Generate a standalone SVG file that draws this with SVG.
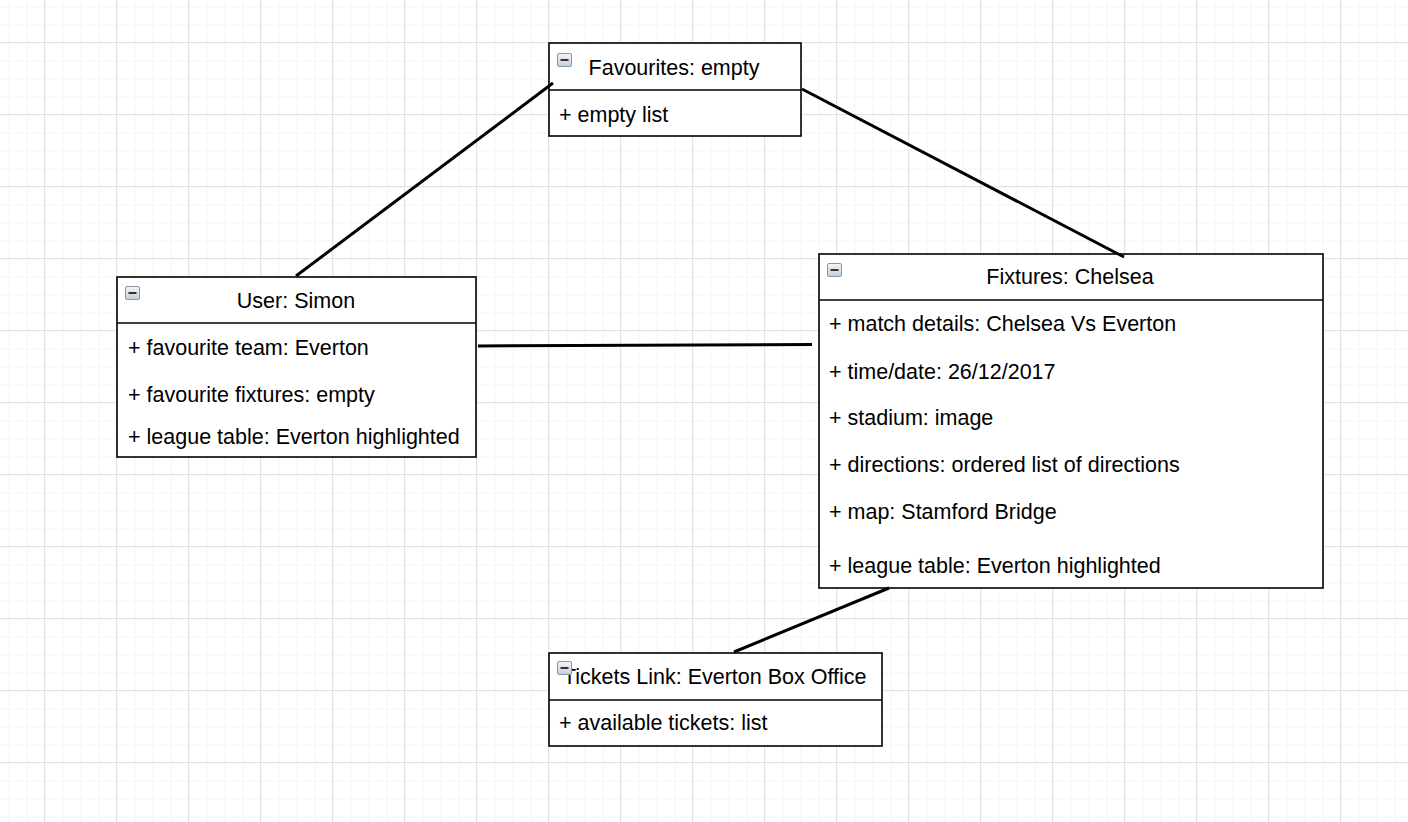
<svg xmlns="http://www.w3.org/2000/svg" width="1408" height="822" viewBox="0 0 1408 822">
<defs>
  <pattern id="minor" x="8.5" y="6.5" width="18" height="18" patternUnits="userSpaceOnUse">
    <path d="M0 0.5H18M0.5 0V18" fill="none" stroke="#f5f5f5" stroke-width="1"/>
  </pattern>
  <pattern id="major" x="44" y="42" width="72" height="72" patternUnits="userSpaceOnUse">
    <path d="M0 0.5H72M0.5 0V72" fill="none" stroke="#e2e2e2" stroke-width="1"/>
  </pattern>
  <linearGradient id="ig" x1="0" y1="0" x2="0" y2="1">
    <stop offset="0" stop-color="#f4f6f9"/>
    <stop offset="1" stop-color="#c4cdd8"/>
  </linearGradient>
  <g id="icon">
    <rect x="0.5" y="0.5" width="14" height="13" rx="1.5" fill="url(#ig)" stroke="#8796a8" stroke-width="1"/>
    <rect x="3.5" y="6" width="8" height="2" fill="#333"/>
  </g>
</defs>
<style>
  .box{fill:#fff;stroke:#000;stroke-width:1.6}
  .div{stroke:#000;stroke-width:1.6}
  text{font-family:"Liberation Sans",Arial,Helvetica,sans-serif;font-size:21.5px;fill:#000}
  .t{text-anchor:middle}
  .conn line{stroke:#000;stroke-width:3;stroke-linecap:butt}
</style>
<rect width="1408" height="822" fill="#fff"/>
<rect width="1408" height="822" fill="url(#minor)"/>
<rect width="1408" height="822" fill="url(#major)"/>

<g id="favourites">
  <rect class="box" x="549" y="43" width="252" height="93"/>
  <line class="div" x1="549" y1="90" x2="801" y2="90"/>
  <use href="#icon" x="557" y="53"/>
  <text class="t" x="674" y="75">Favourites: empty</text>
  <text x="559" y="122">+ empty list</text>
</g>

<g id="user">
  <rect class="box" x="117" y="277" width="359" height="180"/>
  <line class="div" x1="117" y1="323" x2="476" y2="323"/>
  <use href="#icon" x="125" y="286"/>
  <text class="t" x="296" y="308">User: Simon</text>
  <text x="128" y="355">+ favourite team: Everton</text>
  <text x="128" y="402">+ favourite fixtures: empty</text>
  <text x="128" y="444">+ league table: Everton highlighted</text>
</g>

<g id="fixtures">
  <rect class="box" x="819" y="254" width="504" height="334"/>
  <line class="div" x1="819" y1="300" x2="1323" y2="300"/>
  <use href="#icon" x="827" y="263"/>
  <text class="t" x="1070" y="284">Fixtures: Chelsea</text>
  <text x="829" y="331">+ match details: Chelsea Vs Everton</text>
  <text x="829" y="379">+ time/date: 26/12/2017</text>
  <text x="829" y="425">+ stadium: image</text>
  <text x="829" y="472">+ directions: ordered list of directions</text>
  <text x="829" y="519">+ map: Stamford Bridge</text>
  <text x="829" y="573">+ league table: Everton highlighted</text>
</g>

<g id="tickets">
  <rect class="box" x="549" y="653" width="333" height="93"/>
  <line class="div" x1="549" y1="700" x2="882" y2="700"/>
  <text x="563" y="684">Tickets Link: Everton Box Office</text>
  <use href="#icon" x="557" y="661"/>
  <text x="559" y="730">+ available tickets: list</text>
</g>

<g id="connectors" class="conn">
  <line x1="553" y1="83" x2="296" y2="276"/>
  <line x1="802" y1="89" x2="1124" y2="257"/>
  <line x1="478" y1="346" x2="812" y2="344.5"/>
  <line x1="889" y1="588" x2="734" y2="652"/>
</g>
</svg>
